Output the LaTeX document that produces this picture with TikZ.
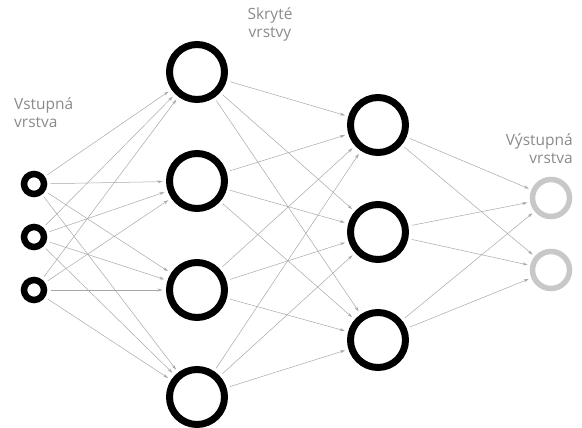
\documentclass[tikz,border=0pt]{standalone}
\usepackage{fontspec}
\setmainfont{Open Sans}
\usetikzlibrary{arrows.meta}
\definecolor{labelgray}{HTML}{8A8A8A}
\definecolor{outgray}{HTML}{C8C8C8}
\definecolor{edgegray}{HTML}{A8A8A8}
\tikzset{
  inp/.style={circle, draw=black, line width=6.5pt, minimum size=20pt, inner sep=0pt},
  hid/.style={circle, draw=black, line width=7pt, minimum size=55pt, inner sep=0pt},
  outn/.style={circle, draw=outgray, line width=5.5pt, minimum size=37pt, inner sep=0pt},
  conn/.style={draw=edgegray, line width=0.5pt, -{Stealth[length=5pt,width=3pt]}},
  lbl/.style={text=labelgray, font=\fontsize{15.5}{18}\selectfont, inner sep=0pt, align=left}
}
\begin{document}
\begin{tikzpicture}[x=1pt,y=-1pt]
\useasboundingbox (0,0) rectangle (582,428);
% input
\node[inp] (i1) at (34,184) {};
\node[inp] (i2) at (34,237) {};
\node[inp] (i3) at (34,290) {};
% hidden 1
\node[hid] (a1) at (197,72) {};
\node[hid] (a2) at (197,181) {};
\node[hid] (a3) at (197,290) {};
\node[hid] (a4) at (197,397) {};
% hidden 2
\node[hid] (b1) at (378,125) {};
\node[hid] (b2) at (378,232) {};
\node[hid] (b3) at (378,340) {};
% output
\node[outn] (o1) at (551,198) {};
\node[outn] (o2) at (551,270) {};
% connectors
\foreach \s in {i1,i2,i3}{
  \foreach \t in {a1,a2,a3,a4}{
    \draw[conn, shorten <=3.25pt, shorten >=3.5pt] (\s) -- (\t);
  }
}
\foreach \s in {a1,a2,a3,a4}{
  \foreach \t in {b1,b2,b3}{
    \draw[conn, shorten <=3.5pt, shorten >=3.5pt] (\s) -- (\t);
  }
}
\foreach \s in {b1,b2,b3}{
  \foreach \t in {o1,o2}{
    \draw[conn, shorten <=3.5pt, shorten >=2.75pt] (\s) -- (\t);
  }
}
% labels
\node[lbl, anchor=north west] (l1) at (14,97) {Vstupná\\vrstva};
\node[lbl, anchor=north, align=center] (l2) at (270,7) {Skryté\\vrstvy};
\node[lbl, anchor=north east, align=right] (l3) at (573,133) {Výstupná\\vrstva};
\end{tikzpicture}
\end{document}
